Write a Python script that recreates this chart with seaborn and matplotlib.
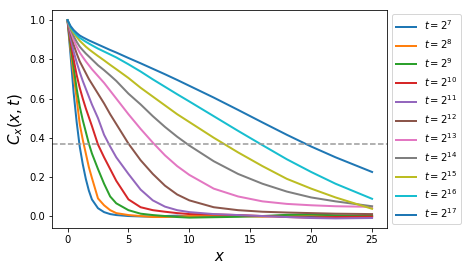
import numpy as np
import pandas as pd
import matplotlib
matplotlib.use("Agg")
import matplotlib.pyplot as plt
import seaborn as sns

# ---- data ----
x_vals = [0, 0.25, 0.5, 0.75, 1, 1.25, 1.5, 1.75, 2, 2.5, 3, 3.5, 4, 5, 6, 7, 8, 9, 10, 12, 14, 16, 18, 20, 22, 25]

t_exponents = [7, 8, 9, 10, 11, 12, 13, 14, 15, 16, 17]

c_t7 = [1.0, 0.82, 0.63, 0.48, 0.355, 0.265, 0.19, 0.13, 0.085, 0.04, 0.02, 0.01, 0.005, 0.0, -0.002, -0.003, 0.0, 0.002, -0.002, 0.0, 0.001, -0.001, 0.002, 0.0, -0.002, 0.0]
c_t8 = [1.0, 0.85, 0.72, 0.6, 0.47, 0.39, 0.32, 0.25, 0.195, 0.09, 0.055, 0.03, 0.015, 0.005, 0.0, -0.005, -0.005, -0.003, 0.0, 0.003, 0.0, -0.003, 0.003, 0.005, 0.0, -0.003]
c_t9 = [1.0, 0.87, 0.76, 0.65, 0.56, 0.49, 0.43, 0.37, 0.32, 0.24, 0.165, 0.1, 0.065, 0.03, 0.012, 0.005, 0.0, -0.005, -0.008, -0.006, -0.004, 0.0, 0.006, 0.008, 0.004, 0.0]
c_t10 = [1.0, 0.89, 0.8, 0.72, 0.655, 0.6, 0.55, 0.505, 0.46, 0.365, 0.3, 0.24, 0.18, 0.085, 0.045, 0.03, 0.022, 0.015, 0.01, 0.008, 0.005, 0.0, -0.005, -0.008, -0.005, -0.003]
c_t11 = [1.0, 0.91, 0.84, 0.785, 0.735, 0.69, 0.65, 0.61, 0.57, 0.5, 0.415, 0.355, 0.3, 0.215, 0.135, 0.08, 0.048, 0.03, 0.02, 0.01, 0.005, 0.0, -0.005, -0.01, -0.012, -0.01]
c_t12 = [1.0, 0.93, 0.875, 0.83, 0.79, 0.76, 0.73, 0.7, 0.675, 0.625, 0.575, 0.52, 0.47, 0.37, 0.285, 0.215, 0.155, 0.11, 0.08, 0.045, 0.03, 0.022, 0.018, 0.015, 0.012, 0.01]
c_t13 = [1.0, 0.945, 0.9, 0.865, 0.835, 0.812, 0.79, 0.77, 0.75, 0.715, 0.68, 0.64, 0.6, 0.52, 0.445, 0.375, 0.31, 0.255, 0.21, 0.14, 0.1, 0.075, 0.062, 0.055, 0.05, 0.047]
c_t14 = [1.0, 0.955, 0.92, 0.89, 0.865, 0.847, 0.83, 0.815, 0.8, 0.77, 0.745, 0.718, 0.69, 0.625, 0.57, 0.51, 0.455, 0.405, 0.36, 0.28, 0.215, 0.165, 0.125, 0.095, 0.075, 0.05]
c_t15 = [1.0, 0.96, 0.935, 0.915, 0.895, 0.88, 0.865, 0.852, 0.84, 0.817, 0.795, 0.772, 0.75, 0.705, 0.655, 0.61, 0.565, 0.52, 0.48, 0.4, 0.325, 0.255, 0.19, 0.14, 0.095, 0.037]
c_t16 = [1.0, 0.965, 0.943, 0.925, 0.91, 0.9, 0.89, 0.881, 0.872, 0.855, 0.84, 0.825, 0.81, 0.775, 0.738, 0.698, 0.66, 0.622, 0.585, 0.51, 0.435, 0.362, 0.29, 0.225, 0.165, 0.088]
c_t17 = [1.0, 0.97, 0.95, 0.935, 0.922, 0.913, 0.905, 0.897, 0.89, 0.876, 0.862, 0.848, 0.835, 0.807, 0.78, 0.752, 0.724, 0.695, 0.665, 0.605, 0.542, 0.478, 0.415, 0.355, 0.3, 0.225]

threshold = 0.368  # dashed reference level

series = [c_t7, c_t8, c_t9, c_t10, c_t11, c_t12, c_t13, c_t14, c_t15, c_t16, c_t17]
labels = [r"$t = 2^{%d}$" % e for e in t_exponents]

rows = []
for lab, vals in zip(labels, series):
    for xv, yv in zip(x_vals, vals):
        rows.append({"x": xv, "C": yv, "t": lab})
df = pd.DataFrame(rows)

plt.rcParams["font.size"] = 10
fig = plt.figure(figsize=(468 / 72, 271 / 72), dpi=72)
ax = fig.add_axes([52.3 / 468, 1 - 228.3 / 271, 335 / 468, 218 / 271])

palette = sns.color_palette("tab10", len(labels))
sns.lineplot(data=df, x="x", y="C", hue="t", hue_order=labels, palette=palette,
             lw=2, ax=ax, legend=True)

ax.axhline(threshold, color="#999999", ls="--", lw=1.5)

ax.set_xlabel(r"$x$", fontsize=15)
ax.set_ylabel(r"$C_x(x,t)$", fontsize=15)
ax.set_xticks([0, 5, 10, 15, 20, 25])
ax.set_yticks([0.0, 0.2, 0.4, 0.6, 0.8, 1.0])

handles, labs = ax.get_legend_handles_labels()
ax.legend(handles, labs, loc="center left", bbox_to_anchor=(1.0, 0.5), fontsize=10)

fig.savefig("out.png", dpi=72)
